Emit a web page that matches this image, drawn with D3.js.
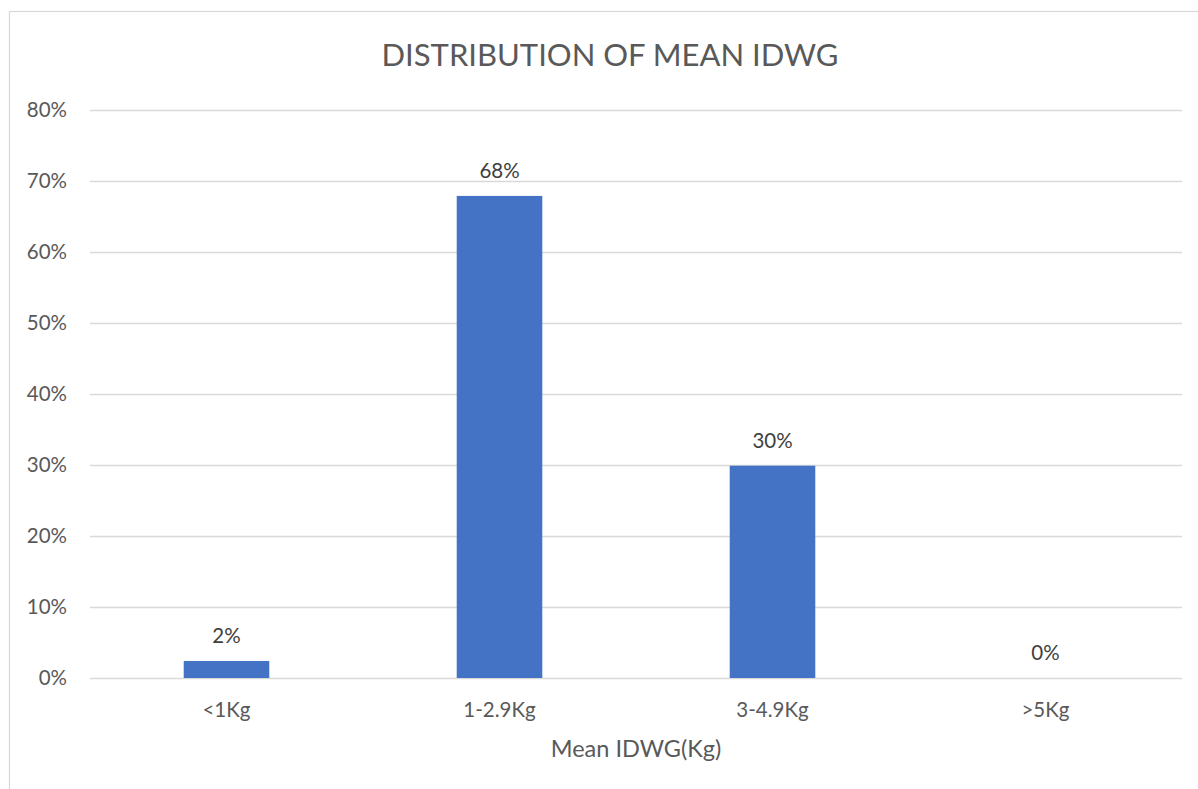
<!DOCTYPE html>
<html>
<head>
<meta charset="utf-8">
<script src="https://cdn.jsdelivr.net/npm/d3@7"></script>
<style>
html,body{margin:0;padding:0;background:#fff;}
svg{display:block;font-family:Lato,"Open Sans",sans-serif;}
</style>
</head>
<body>
<svg id="chart" width="1198" height="789"></svg>
<script>
const categories = ["<1Kg", "1-2.9Kg", "3-4.9Kg", ">5Kg"];
const values = [0.024, 0.679, 0.299, 0.0];
const valueLabels = ["2%", "68%", "30%", "0%"];
const yTicks = [0, 0.1, 0.2, 0.3, 0.4, 0.5, 0.6, 0.7, 0.8];
const chartTitle = "DISTRIBUTION OF MEAN IDWG";
const xAxisTitle = "Mean IDWG(Kg)";

const svg = d3.select("#chart");
const textColor = "#595959";
const gridColor = "#d9d9d9";
const barColor = "#4472C4";
const labelSize = 20.5;

// chart border
svg.append("rect").attr("x", 9.5).attr("y", 11.5).attr("width", 1250).attr("height", 900)
  .attr("fill", "none").attr("stroke", gridColor).attr("stroke-width", 1.2);

const plotLeft = 90, plotRight = 1182, plotTop = 110, plotBottom = 678;
const gap = 2.19 / 3.19;
const x = d3.scaleBand().domain(categories).range([plotLeft, plotRight])
  .paddingInner(gap).paddingOuter(gap / 2);
const y = d3.scaleLinear().domain([0, 0.8]).range([plotBottom, plotTop]);

// gridlines + y labels
const yAxis = d3.axisLeft(y).tickValues(yTicks).tickFormat(d3.format(".0%"))
  .tickSize(-(plotRight - plotLeft)).tickPadding(23);
const gy = svg.append("g").attr("transform", `translate(${plotLeft},0)`).call(yAxis);
gy.select(".domain").remove();
gy.selectAll(".tick line").attr("stroke", gridColor).attr("stroke-width", 1.5);
gy.selectAll(".tick text").attr("fill", textColor).attr("font-size", labelSize)
  .attr("font-family", "Lato, 'Open Sans', sans-serif");

// bars
svg.append("g").selectAll("rect").data(values).join("rect")
  .attr("x", (d, i) => x(categories[i]))
  .attr("y", d => y(d))
  .attr("width", x.bandwidth())
  .attr("height", d => plotBottom - y(d))
  .attr("fill", barColor);

// data labels
svg.append("g").selectAll("text").data(values).join("text")
  .attr("x", (d, i) => x(categories[i]) + x.bandwidth() / 2)
  .attr("y", d => y(d) - 18)
  .attr("text-anchor", "middle")
  .attr("fill", "#404040").attr("font-size", labelSize)
  .text((d, i) => valueLabels[i]);

// x axis
const xAxis = d3.axisBottom(x).tickSize(0).tickPadding(24);
const gx = svg.append("g").attr("transform", `translate(0,${plotBottom})`).call(xAxis);
gx.select(".domain").remove();
gx.selectAll(".tick text").attr("fill", textColor).attr("font-size", labelSize)
  .attr("font-family", "Lato, 'Open Sans', sans-serif");

// axis title
svg.append("text").attr("x", (plotLeft + plotRight) / 2).attr("y", 757)
  .attr("text-anchor", "middle").attr("fill", textColor).attr("font-size", 23.5)
  .text(xAxisTitle);

// chart title
svg.append("text").attr("x", 610).attr("y", 66)
  .attr("text-anchor", "middle").attr("fill", textColor).attr("font-size", 31)
  .text(chartTitle);
</script>
</body>
</html>
